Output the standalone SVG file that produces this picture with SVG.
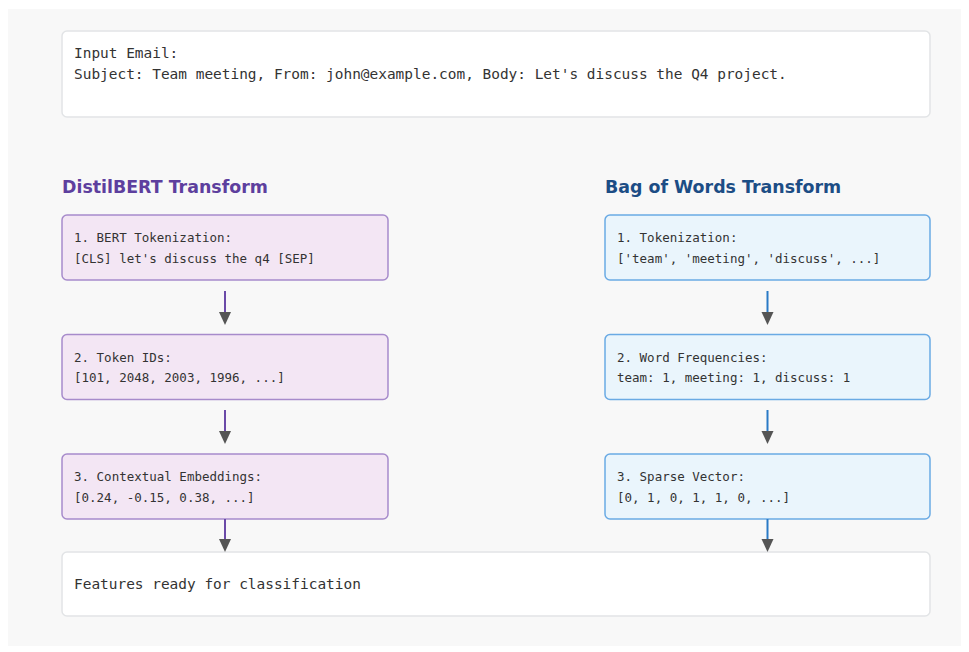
<svg xmlns="http://www.w3.org/2000/svg" width="969" height="652" viewBox="0 0 969 652">
<defs>
<style>
.mono{font-family:"DejaVu Sans Mono","Liberation Mono",monospace;fill:#333;}
.big{font-size:14.45px;}
.small{font-size:12.5px;}
.title{font-family:"DejaVu Sans","Liberation Sans",sans-serif;font-weight:bold;font-size:17.4px;}
.plain{fill:#ffffff;stroke:#e2e4e6;stroke-width:1.5;}
.purple{fill:#f3e6f4;stroke:#a78bcb;stroke-width:1.5;}
.blue{fill:#eaf5fc;stroke:#6aaae4;stroke-width:1.5;}
.lp{stroke:#6b4aa8;stroke-width:2;}
.lb{stroke:#2a7ac6;stroke-width:2;}
.head{fill:#555555;}
</style>
</defs>
<rect x="0" y="0" width="969" height="652" fill="#ffffff"/>
<rect x="8" y="9" width="953" height="637" fill="#f8f8f8"/>

<g id="input">
<rect class="plain" x="62" y="31" width="868" height="86" rx="5"/>
<text class="mono big" x="74" y="58">Input Email:</text>
<text class="mono big" x="74" y="79">Subject: Team meeting, From: john@example.com, Body: Let's discuss the Q4 project.</text>
</g>

<g id="title-distilbert"><text class="title" x="62" y="193" fill="#5d3f9e">DistilBERT Transform</text></g>
<g id="title-bow"><text class="title" x="605" y="193" fill="#1c4d85">Bag of Words Transform</text></g>

<g id="d1">
<rect class="purple" x="62" y="215" width="326" height="65" rx="5"/>
<text class="mono small" x="74" y="242">1. BERT Tokenization:</text>
<text class="mono small" x="74" y="263">[CLS] let's discuss the q4 [SEP]</text>
</g>
<g id="d2">
<rect class="purple" x="62" y="334.5" width="326" height="65" rx="5"/>
<text class="mono small" x="74" y="362">2. Token IDs:</text>
<text class="mono small" x="74" y="382">[101, 2048, 2003, 1996, ...]</text>
</g>
<g id="d3">
<rect class="purple" x="62" y="454" width="326" height="65" rx="5"/>
<text class="mono small" x="74" y="481">3. Contextual Embeddings:</text>
<text class="mono small" x="74" y="502">[0.24, -0.15, 0.38, ...]</text>
</g>

<g id="b1">
<rect class="blue" x="605" y="215" width="325" height="65" rx="5"/>
<text class="mono small" x="617" y="242">1. Tokenization:</text>
<text class="mono small" x="617" y="263">['team', 'meeting', 'discuss', ...]</text>
</g>
<g id="b2">
<rect class="blue" x="605" y="334.5" width="325" height="65" rx="5"/>
<text class="mono small" x="617" y="362">2. Word Frequencies:</text>
<text class="mono small" x="617" y="382">team: 1, meeting: 1, discuss: 1</text>
</g>
<g id="b3">
<rect class="blue" x="605" y="454" width="325" height="65" rx="5"/>
<text class="mono small" x="617" y="481">3. Sparse Vector:</text>
<text class="mono small" x="617" y="502">[0, 1, 0, 1, 1, 0, ...]</text>
</g>

<g id="output">
<rect class="plain" x="62" y="552" width="868" height="64" rx="5"/>
<text class="mono big" x="74" y="589">Features ready for classification</text>
</g>

<g id="connectors">
<line class="lp" x1="225" y1="291" x2="225" y2="314"/>
<polygon class="head" points="219,312 231,312 225,325"/>
<line class="lp" x1="225" y1="410" x2="225" y2="433"/>
<polygon class="head" points="219,431 231,431 225,444"/>
<line class="lp" x1="225" y1="519" x2="225" y2="541"/>
<polygon class="head" points="219,539 231,539 225,552"/>
<line class="lb" x1="767.5" y1="291" x2="767.5" y2="314"/>
<polygon class="head" points="761.5,312 773.5,312 767.5,325"/>
<line class="lb" x1="767.5" y1="410" x2="767.5" y2="433"/>
<polygon class="head" points="761.5,431 773.5,431 767.5,444"/>
<line class="lb" x1="767.5" y1="519" x2="767.5" y2="541"/>
<polygon class="head" points="761.5,539 773.5,539 767.5,552"/>
</g>
</svg>
